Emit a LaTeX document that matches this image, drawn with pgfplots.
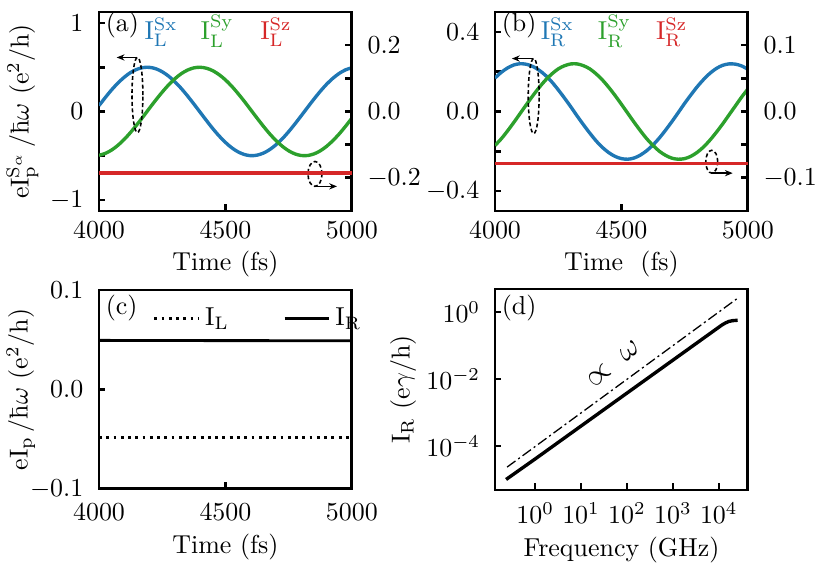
\documentclass[border=0pt]{standalone}
\usepackage{pgfplots}
\usepackage{pgfplotstable}
\pgfplotsset{compat=1.18}
\usetikzlibrary{arrows.meta}
\definecolor{cblue}{RGB}{31,119,180}
\definecolor{cgreen}{RGB}{44,160,44}
\definecolor{cred}{RGB}{214,39,40}
\newcommand{\hb}{{\mathchar'26\mkern-9mu\mathrm{h}}}

\pgfplotstableread{
t sx sy
4000 0.066 -0.496
4025 0.158 -0.474
4050 0.245 -0.436
4075 0.322 -0.382
4100 0.388 -0.315
4125 0.441 -0.236
4150 0.477 -0.149
4175 0.497 -0.057
4200 0.499 0.038
4225 0.483 0.131
4250 0.449 0.219
4275 0.400 0.300
4300 0.336 0.370
4325 0.261 0.427
4350 0.176 0.468
4375 0.085 0.493
4400 -0.009 0.500
4425 -0.103 0.489
4450 -0.194 0.461
4475 -0.277 0.416
4500 -0.350 0.357
4525 -0.411 0.285
4550 -0.457 0.202
4575 -0.487 0.113
4600 -0.500 0.019
4625 -0.494 -0.075
4650 -0.471 -0.167
4675 -0.431 -0.253
4700 -0.376 -0.329
4725 -0.308 -0.394
4750 -0.228 -0.445
4775 -0.140 -0.480
4800 -0.047 -0.498
4825 0.047 -0.498
4850 0.140 -0.480
4875 0.228 -0.445
4900 0.308 -0.394
4925 0.376 -0.329
4950 0.431 -0.253
4975 0.471 -0.167
5000 0.494 -0.075
}\tableA

\pgfplotstableread{
t sx sy
4000 0.168 -0.171
4025 0.197 -0.137
4050 0.219 -0.097
4075 0.234 -0.054
4100 0.240 -0.009
4125 0.237 0.036
4150 0.226 0.080
4175 0.207 0.121
4200 0.181 0.158
4225 0.148 0.189
4250 0.109 0.214
4275 0.067 0.230
4300 0.023 0.239
4325 -0.023 0.239
4350 -0.067 0.230
4375 -0.109 0.214
4400 -0.148 0.189
4425 -0.181 0.158
4450 -0.207 0.121
4475 -0.226 0.080
4500 -0.237 0.036
4525 -0.240 -0.009
4550 -0.234 -0.054
4575 -0.219 -0.097
4600 -0.197 -0.137
4625 -0.168 -0.171
4650 -0.133 -0.200
4675 -0.093 -0.221
4700 -0.050 -0.235
4725 -0.005 -0.240
4750 0.041 -0.237
4775 0.084 -0.225
4800 0.125 -0.205
4825 0.161 -0.178
4850 0.192 -0.144
4875 0.216 -0.105
4900 0.232 -0.063
4925 0.239 -0.018
4950 0.238 0.027
4975 0.229 0.072
5000 0.212 0.113
}\tableB

\pgfplotsset{
  panel/.style={
    scale only axis, width=97.5pt, height=76.7pt,
    axis line style={line width=1.1pt},
    tick align=inside, major tick length=2.5pt,
    every tick/.style={line width=1pt, black},
    xtick pos=left,
    xticklabel style={yshift=-0.75pt, /pgf/number format/set thousands separator={}},
  },
  ylab/.style={every axis y label/.style={at={(axis description cs:#1,0.5)}, anchor=center, rotate=90}},
  xlab/.style={every axis x label/.style={at={(axis description cs:0.5,#1)}, anchor=center}},
}
\tikzset{
  curve/.style={line width=1.3pt},
  elli/.style={dash pattern=on 1.5pt off 1pt, line width=0.6pt},
  arr/.style={-{Stealth[length=3pt,width=2.4pt]}, line width=0.6pt},
}

\begin{document}
\begin{tikzpicture}
\useasboundingbox (0,0) rectangle (320pt,-218.2pt);

% ---------------- (a) ----------------
\begin{axis}[panel, at={(38.17pt,-4.63pt)}, anchor=north west,
  xmin=4000, xmax=5000, ymin=-1.125, ymax=1.125,
  xtick={4000,4500,5000},
  ytick={-1,-0.5,0,0.5,1}, yticklabels={$-1$,,$0$,,$1$},
  ytick pos=left, yticklabel style={xshift=-2.5pt},
  ylab=-0.302, xlab=-0.266,
  ylabel={$\mathrm{eI_p^{S_\alpha}}\,/\hb\omega\ (\mathrm{e^2/h})$},
  xlabel={Time (fs)}]
\addplot[curve, cblue, smooth] table[x=t, y=sx] {\tableA};
\addplot[curve, cgreen, smooth] table[x=t, y=sy] {\tableA};
\node[anchor=west, inner sep=0pt] at (rel axis cs:0.025,0.935) {(a)};
\node[anchor=base west, inner sep=0pt, text=cblue] at (rel axis cs:0.178,0.86) {$\mathrm{I_L^{Sx}}$};
\node[anchor=base west, inner sep=0pt, text=cgreen] at (rel axis cs:0.40,0.86) {$\mathrm{I_L^{Sy}}$};
\node[anchor=base west, inner sep=0pt, text=cred] at (rel axis cs:0.636,0.86) {$\mathrm{I_L^{Sz}}$};
\draw[elli] (axis cs:4152,0.186) ellipse [x radius=2.1pt, y radius=14.5pt];
\draw[arr] (axis cs:4150,0.611) -- (axis cs:4070,0.611);
\draw[elli] (axis cs:4854,-0.706) ellipse [x radius=2.7pt, y radius=4.8pt];
\draw[arr] (axis cs:4854,-0.847) -- (axis cs:4941,-0.847);
\end{axis}
\begin{axis}[panel, at={(38.17pt,-4.63pt)}, anchor=north west,
  axis x line=none, axis y line*=right,
  xmin=4000, xmax=5000, ymin=-0.3, ymax=0.3,
  ytick={-0.2,-0.1,0,0.1,0.2}, yticklabels={$-0.2$,,$0.0$,,$0.2$},
  yticklabel style={xshift=2.5pt}]
\addplot[curve, cred] coordinates {(4000,-0.185) (5000,-0.185)};
\end{axis}

% ---------------- (b) ----------------
\begin{axis}[panel, at={(190.84pt,-4.63pt)}, anchor=north west,
  xmin=4000, xmax=5000, ymin=-0.5, ymax=0.5,
  xtick={4000,4500,5000},
  ytick={-0.4,-0.2,0,0.2,0.4}, yticklabels={$-0.4$,,$0.0$,,$0.4$},
  ytick pos=left, yticklabel style={xshift=-2.5pt},
  xlab=-0.266,
  xlabel={Time\ \ (fs)}]
\addplot[curve, cblue, smooth] table[x=t, y=sx] {\tableB};
\addplot[curve, cgreen, smooth] table[x=t, y=sy] {\tableB};
\node[anchor=west, inner sep=0pt] at (rel axis cs:0.025,0.935) {(b)};
\node[anchor=base west, inner sep=0pt, text=cblue] at (rel axis cs:0.179,0.86) {$\mathrm{I_R^{Sx}}$};
\node[anchor=base west, inner sep=0pt, text=cgreen] at (rel axis cs:0.405,0.86) {$\mathrm{I_R^{Sy}}$};
\node[anchor=base west, inner sep=0pt, text=cred] at (rel axis cs:0.635,0.86) {$\mathrm{I_R^{Sz}}$};
\draw[elli] (axis cs:4153,0.0775) ellipse [x radius=2.1pt, y radius=14.5pt];
\draw[arr] (axis cs:4150,0.266) -- (axis cs:4067,0.266);
\draw[elli] (axis cs:4857,-0.2525) ellipse [x radius=2.3pt, y radius=4.4pt];
\draw[arr] (axis cs:4857,-0.31) -- (axis cs:4940,-0.31);
\end{axis}
\begin{axis}[panel, at={(190.84pt,-4.63pt)}, anchor=north west,
  axis x line=none, axis y line*=right,
  xmin=4000, xmax=5000, ymin=-0.15, ymax=0.15,
  ytick={-0.1,-0.05,0,0.05,0.1}, yticklabels={$-0.1$,,$0.0$,,$0.1$},
  yticklabel style={xshift=2.5pt}]
\addplot[curve, cred] coordinates {(4000,-0.078) (5000,-0.078)};
\end{axis}

% ---------------- (c) ----------------
\begin{axis}[panel, at={(38.17pt,-111.8pt)}, anchor=north west,
  xmin=4000, xmax=5000, ymin=-0.1, ymax=0.1,
  xtick={4000,4500,5000},
  ytick={-0.1,0,0.1}, yticklabels={$-0.1$,$0.0$,$0.1$},
  ytick pos=left, yticklabel style={xshift=-2.5pt},
  xticklabel style={yshift=-1.6pt},
  ylab=-0.309, xlab=-0.292,
  ylabel={$\mathrm{eI_p}\,/\hb\omega\ (\mathrm{e^2/h})$},
  xlabel={Time (fs)},
  legend columns=2,
  legend style={draw=none, fill=none, at={(axis description cs:1.09,0.855)}, anchor=east,
    /tikz/every even column/.append style={column sep=19pt}},
  legend cell align=left]
\addplot[line width=1.1pt, black, dash pattern=on 1.1pt off 1.7pt] coordinates {(4000,-0.048) (5000,-0.048)};
\addlegendentry{$\mathrm{I_L}$}
\addplot[line width=1.1pt, black] coordinates {(4000,0.0493) (5000,0.0489)};
\addlegendentry{$\mathrm{I_R}$}
\node[anchor=west, inner sep=0pt] at (rel axis cs:0.025,0.91) {(c)};
\end{axis}

% ---------------- (d) ----------------
\begin{axis}[panel, at={(190.84pt,-111.4pt)}, anchor=north west, height=77.5pt,
  xmode=log, ymode=log,
  xmin=0.1336, xmax=43000, ymin=4.86e-6, ymax=4.86,
  xtick={1,10,100,1000,10000}, ytick={1e-4,1e-2,1},
  xminorticks=false, yminorticks=false,
  ytick pos=left, yticklabel style={xshift=-2.2pt},
  xticklabel style={yshift=-0.6pt},
  ylab=-0.363, xlab=-0.298,
  ylabel={$\mathrm{I_R\ (e\gamma/h)}$},
  xlabel={Frequency (GHz)}]
\addplot[line width=0.5pt, black, dash pattern=on 4pt off 1.3pt on 0.8pt off 1.3pt] coordinates {(0.245,2.34e-5) (24500,2.45)};
\addplot[line width=1.3pt, black] coordinates {(0.233,1.0e-5) (1,4.09e-5) (10,3.94e-4) (100,3.79e-3) (1000,0.0364) (10000,0.35) (11750,0.41) (14000,0.47) (16500,0.52) (20000,0.55) (25700,0.565)};
\node[anchor=west, inner sep=0pt] at (rel axis cs:0.025,0.905) {(d)};
\node[rotate=40] at (axis cs:52,0.028) {\large$\propto\hspace{3pt}\omega$};
\end{axis}
\end{tikzpicture}
\end{document}
